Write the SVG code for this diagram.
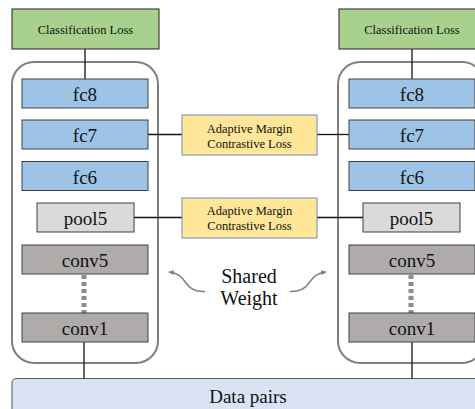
<svg xmlns="http://www.w3.org/2000/svg" width="475" height="409" viewBox="0 0 475 409">
<style>
text{fill:#111;text-anchor:middle;font-family:'Liberation Serif',serif !important}
.big{font-size:19px}
.sm{font-size:12.5px}
.cls{fill:#a9d18e;stroke:#222;stroke-width:1}
.fc{fill:#9dc3e6;stroke:#404040;stroke-width:1}
.pool{fill:#dadada;stroke:#404040;stroke-width:1}
.conv{fill:#afabab;stroke:#404040;stroke-width:1}
.aml{fill:#ffe699;stroke:#6f8db5;stroke-width:1}
.cont{fill:none;stroke:#7f7f7f;stroke-width:2}
.ln{stroke:#111;stroke-width:1.3;fill:none}
.dots{stroke:#8c8c8c;stroke-width:5;stroke-dasharray:4 3;fill:none}
.sw{stroke:#7f7f7f;stroke-width:1.5;fill:none}
</style>
<defs>
<marker id="ah" viewBox="0 0 10 10" refX="8" refY="5" markerWidth="6" markerHeight="6" orient="auto-start-reverse" markerUnits="userSpaceOnUse">
<path d="M0,1 L9,5 L0,9 z" fill="#7f7f7f"/>
</marker>
</defs>

<g id="data-pairs">
<path d="M12,420 V383 Q12,378.5 17,378.5 H480 V420 Z" fill="#dae3f3" stroke="#555" stroke-width="1"/>
<text class="big" style="font-family:'Liberation Serif',serif" x="248" y="403">Data pairs</text>
</g>

<g id="left-container"><rect class="cont" x="12" y="62" width="146" height="301" rx="22"/></g>
<g id="right-container"><rect class="cont" x="338" y="62" width="146" height="301" rx="22"/></g>

<g id="connectors">
<line class="ln" x1="85" y1="49" x2="85" y2="79"/>
<line class="ln" x1="412" y1="49" x2="412" y2="79"/>
<line class="ln" x1="148" y1="134.5" x2="182" y2="134.5"/>
<line class="ln" x1="317" y1="134.5" x2="349" y2="134.5"/>
<line class="ln" x1="134" y1="217.5" x2="182" y2="217.5"/>
<line class="ln" x1="317" y1="217.5" x2="363" y2="217.5"/>
<line class="ln" x1="84" y1="342" x2="84" y2="378.5"/>
<line class="ln" x1="412" y1="342" x2="412" y2="378.5"/>
<line class="dots" x1="84" y1="275" x2="84" y2="313"/>
<line class="dots" x1="411" y1="275" x2="411" y2="313"/>
<path class="sw" d="M205,291.5 C195,292 190,289 186,283 C182,277 178,273 169,272" marker-end="url(#ah)"/>
<path class="sw" d="M290,291.5 C300,292 305,289 309,283 C313,277 317,273 326,272" marker-end="url(#ah)"/>
</g>

<g id="left-cls"><rect class="cls" x="12" y="9" width="147" height="40"/><text class="sm" style="font-family:'Liberation Serif',serif" x="85.5" y="34">Classification Loss</text></g>
<g id="right-cls"><rect class="cls" x="339" y="9" width="147" height="40"/><text class="sm" style="font-family:'Liberation Serif',serif" x="412" y="34">Classification Loss</text></g>

<g id="left-fc8"><rect class="fc" x="22" y="79" width="126" height="29"/><text class="big" style="font-family:'Liberation Serif',serif" x="85" y="101">fc8</text></g>
<g id="left-fc7"><rect class="fc" x="22" y="120" width="126" height="29"/><text class="big" style="font-family:'Liberation Serif',serif" x="85" y="142">fc7</text></g>
<g id="left-fc6"><rect class="fc" x="22" y="161.5" width="126" height="29"/><text class="big" style="font-family:'Liberation Serif',serif" x="85" y="183.5">fc6</text></g>
<g id="left-pool5"><rect class="pool" x="37" y="203" width="97" height="29"/><text class="big" style="font-family:'Liberation Serif',serif" x="85.5" y="225">pool5</text></g>
<g id="left-conv5"><rect class="conv" x="22" y="245" width="126" height="29"/><text class="big" style="font-family:'Liberation Serif',serif" x="85" y="267">conv5</text></g>
<g id="left-conv1"><rect class="conv" x="22" y="313" width="126" height="29"/><text class="big" style="font-family:'Liberation Serif',serif" x="85" y="335">conv1</text></g>

<g id="right-fc8"><rect class="fc" x="349" y="79" width="126" height="29"/><text class="big" style="font-family:'Liberation Serif',serif" x="412" y="101">fc8</text></g>
<g id="right-fc7"><rect class="fc" x="349" y="120" width="126" height="29"/><text class="big" style="font-family:'Liberation Serif',serif" x="412" y="142">fc7</text></g>
<g id="right-fc6"><rect class="fc" x="349" y="161.5" width="126" height="29"/><text class="big" style="font-family:'Liberation Serif',serif" x="412" y="183.5">fc6</text></g>
<g id="right-pool5"><rect class="pool" x="363" y="203" width="97" height="29"/><text class="big" style="font-family:'Liberation Serif',serif" x="411.5" y="225">pool5</text></g>
<g id="right-conv5"><rect class="conv" x="349" y="245" width="126" height="29"/><text class="big" style="font-family:'Liberation Serif',serif" x="412" y="267">conv5</text></g>
<g id="right-conv1"><rect class="conv" x="349" y="313" width="126" height="29"/><text class="big" style="font-family:'Liberation Serif',serif" x="412" y="335">conv1</text></g>

<g id="aml-top"><rect class="aml" x="182" y="115" width="135" height="40"/><text class="sm" style="font-family:'Liberation Serif',serif" x="249.5" y="133">Adaptive Margin</text><text class="sm" style="font-family:'Liberation Serif',serif" x="249.5" y="147.5">Contrastive Loss</text></g>
<g id="aml-bottom"><rect class="aml" x="182" y="198" width="135" height="40"/><text class="sm" style="font-family:'Liberation Serif',serif" x="249.5" y="215">Adaptive Margin</text><text class="sm" style="font-family:'Liberation Serif',serif" x="249.5" y="229.5">Contrastive Loss</text></g>

<g id="shared-weight"><text style="font-family:'Liberation Serif',serif;font-size:20px" x="249" y="283">Shared</text><text style="font-family:'Liberation Serif',serif;font-size:20px" x="249" y="305">Weight</text></g>
</svg>
